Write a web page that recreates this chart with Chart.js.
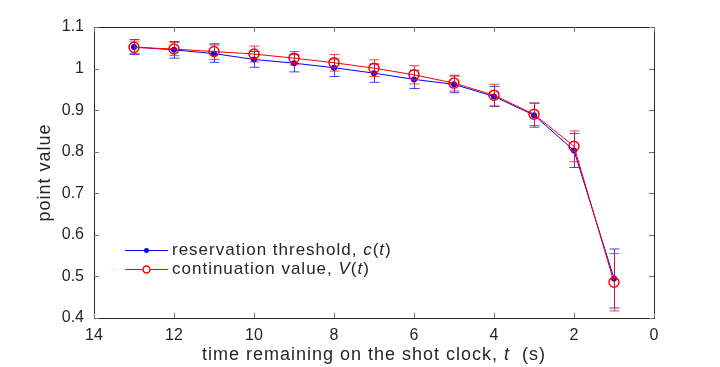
<!DOCTYPE html>
<html>
<head>
<meta charset="utf-8">
<title>Reservation threshold vs continuation value</title>
<script src="https://cdn.jsdelivr.net/npm/chart.js@4/dist/chart.umd.min.js"></script>
<style>
  html, body { margin: 0; padding: 0; background: #fff; }
  #wrap { width: 720px; height: 367px; }
</style>
</head>
<body>
<div id="wrap"><canvas id="chart" width="720" height="367"></canvas></div>
<script>
// ── Data ──────────────────────────────────────────────────────────────
const timeRemaining      = [13, 12, 11, 10, 9, 8, 7, 6, 5, 4, 3, 2, 1];
const thresholdValues    = [1.052, 1.045, 1.036, 1.022, 1.013, 1.002, 0.989, 0.974, 0.962, 0.933, 0.888, 0.803, 0.495];
const thresholdErrors    = [0.018, 0.020, 0.021, 0.019, 0.021, 0.021, 0.022, 0.022, 0.020, 0.024, 0.029, 0.041, 0.071];
const continuationValues = [1.051, 1.047, 1.041, 1.035, 1.025, 1.014, 1.001, 0.985, 0.965, 0.936, 0.890, 0.813, 0.486];
const continuationErrors = [0.015, 0.016, 0.019, 0.019, 0.016, 0.020, 0.020, 0.022, 0.019, 0.026, 0.027, 0.037, 0.069];
const xTicks = [14, 12, 10, 8, 6, 4, 2, 0];
const yTicks = [0.4, 0.5, 0.6, 0.7, 0.8, 0.9, 1.0, 1.1];

const BLUE = '#0000ff';
const RED  = '#ff0000';
const TEXT = '#262626';
const FONT = "'Liberation Sans', Arial, Helvetica, sans-serif";

function toPoints(values) {
  return timeRemaining.map((t, i) => ({ x: t, y: values[i] }));
}

// ── Helpers for mixed upright / italic text ───────────────────────────
function drawRichText(ctx, parts, x, y, size, align) {
  ctx.save();
  ctx.letterSpacing = '1px';
  ctx.textBaseline = 'middle';
  ctx.textAlign = 'left';
  ctx.fillStyle = TEXT;
  const widths = parts.map(p => {
    ctx.font = (p.italic ? 'italic ' : '') + size + 'px ' + FONT;
    return ctx.measureText(p.text).width;
  });
  const total = widths.reduce((a, b) => a + b, 0);
  let cx = align === 'center' ? x - total / 2 : x;
  parts.forEach((p, i) => {
    ctx.font = (p.italic ? 'italic ' : '') + size + 'px ' + FONT;
    ctx.fillText(p.text, cx, y);
    cx += widths[i];
  });
  ctx.restore();
}

// ── Error bars ────────────────────────────────────────────────────────
const errorBarPlugin = {
  id: 'errorBars',
  afterDatasetDraw(chart, args) {
    const ds = chart.data.datasets[args.index];
    if (!ds.errors) return;
    const { ctx, scales: { x, y } } = chart;
    ctx.save();
    ctx.strokeStyle = ds.errorColor;
    ctx.lineWidth = 1;
    ds.data.forEach((p, i) => {
      const px   = Math.round(x.getPixelForValue(p.x)) + 0.5;
      const top  = y.getPixelForValue(p.y + ds.errors[i]);
      const bot  = y.getPixelForValue(p.y - ds.errors[i]);
      ctx.beginPath();
      ctx.moveTo(px, top);     ctx.lineTo(px, bot);
      ctx.moveTo(px - 5, top); ctx.lineTo(px + 5, top);
      ctx.moveTo(px - 5, bot); ctx.lineTo(px + 5, bot);
      ctx.stroke();
    });
    ctx.restore();
  },
};

// ── Axes box, inward ticks, titles, legend ────────────────────────────
const framePlugin = {
  id: 'frame',
  afterDraw(chart) {
    const { ctx, chartArea: a, scales: { x, y } } = chart;
    ctx.save();
    ctx.strokeStyle = TEXT;
    ctx.lineWidth = 1;
    ctx.strokeRect(Math.round(a.left) + 0.5, Math.round(a.top) + 0.5,
                   Math.round(a.right - a.left), Math.round(a.bottom - a.top));

    ctx.strokeStyle = '#707070';
    ctx.beginPath();
    xTicks.forEach(v => {
      const px = Math.round(x.getPixelForValue(v)) + 0.5;
      ctx.moveTo(px, a.bottom); ctx.lineTo(px, a.bottom - 5);
      ctx.moveTo(px, a.top);    ctx.lineTo(px, a.top + 5);
    });
    yTicks.forEach(v => {
      const py = Math.round(y.getPixelForValue(v)) + 0.5;
      ctx.moveTo(a.left, py);  ctx.lineTo(a.left + 5, py);
      ctx.moveTo(a.right, py); ctx.lineTo(a.right - 5, py);
    });
    ctx.stroke();
    ctx.restore();

    // y title
    ctx.save();
    ctx.translate(45, (a.top + a.bottom) / 2);
    ctx.rotate(-Math.PI / 2);
    drawRichText(ctx, [{ text: 'point value' }], 0, 0, 18, 'center');
    ctx.restore();

    // x title
    drawRichText(ctx, [
      { text: 'time remaining on the shot clock, ' },
      { text: 't', italic: true },
      { text: '  (s)' },
    ], (a.left + a.right) / 2, 355, 18, 'center');

    // legend
    const rows = [
      { color: BLUE, filled: true,  y: 250, parts: [
        { text: 'reservation threshold, ' }, { text: 'c', italic: true },
        { text: '(' }, { text: 't', italic: true }, { text: ')' }] },
      { color: RED,  filled: false, y: 269, parts: [
        { text: 'continuation value, ' }, { text: 'V', italic: true },
        { text: '(' }, { text: 't', italic: true }, { text: ')' }] },
    ];
    rows.forEach(r => {
      ctx.save();
      ctx.strokeStyle = r.color;
      ctx.fillStyle = r.color;
      ctx.lineWidth = 1;
      ctx.beginPath();
      ctx.moveTo(125, r.y + 0.5); ctx.lineTo(168, r.y + 0.5);
      ctx.stroke();
      ctx.beginPath();
      if (r.filled) {
        ctx.arc(146.5, r.y + 0.5, 2.5, 0, Math.PI * 2);
        ctx.fill();
      } else {
        ctx.lineWidth = 1.5;
        ctx.fillStyle = '#fff';
        ctx.arc(146.5, r.y + 0.5, 3.5, 0, Math.PI * 2);
        ctx.fill();
        ctx.stroke();
      }
      ctx.restore();
      drawRichText(ctx, r.parts, 172, r.y, 17, 'left');
    });
  },
};

const bgPlugin = {
  id: 'bg',
  beforeDraw(chart) {
    const { ctx, width, height } = chart;
    ctx.save();
    ctx.fillStyle = '#fff';
    ctx.fillRect(0, 0, width, height);
    ctx.restore();
  },
};

// ── Chart ─────────────────────────────────────────────────────────────
new Chart(document.getElementById('chart'), {
  type: 'scatter',
  data: {
    datasets: [
      {
        label: 'reservation threshold, c(t)',
        data: toPoints(thresholdValues),
        errors: thresholdErrors,
        errorColor: 'rgba(0,0,255,0.75)',
        showLine: true,
        borderColor: BLUE,
        backgroundColor: BLUE,
        borderWidth: 1,
        pointRadius: 3,
        pointBorderWidth: 0,
        order: 2,
      },
      {
        label: 'continuation value, V(t)',
        data: toPoints(continuationValues),
        errors: continuationErrors,
        errorColor: 'rgba(255,0,0,0.75)',
        showLine: true,
        borderColor: RED,
        backgroundColor: 'rgba(255,255,255,0)',
        borderWidth: 1,
        pointRadius: 5,
        pointBorderWidth: 1.5,
        order: 1,
      },
    ],
  },
  options: {
    responsive: false,
    animation: false,
    layout: { padding: { top: 27, right: 66, left: 0, bottom: 0 } },
    plugins: {
      legend: { display: false },
      tooltip: { enabled: false },
    },
    scales: {
      x: {
        type: 'linear',
        reverse: true,
        min: 0,
        max: 14,
        afterFit: s => { s.height = 49; },
        afterBuildTicks: s => { s.ticks = xTicks.map(v => ({ value: v })); },
        grid: { display: false, drawTicks: false },
        border: { display: false },
        ticks: { color: TEXT, padding: 8, font: { family: FONT, size: 16 } },
      },
      y: {
        min: 0.4,
        max: 1.1,
        afterFit: s => { s.width = 94; },
        afterBuildTicks: s => { s.ticks = yTicks.map(v => ({ value: v })); },
        grid: { display: false, drawTicks: false },
        border: { display: false },
        ticks: {
          color: TEXT,
          padding: 10,
          font: { family: FONT, size: 16 },
          callback: v => String(Number(v.toFixed(1))),
        },
      },
    },
  },
  plugins: [bgPlugin, errorBarPlugin, framePlugin],
});
</script>
</body>
</html>
